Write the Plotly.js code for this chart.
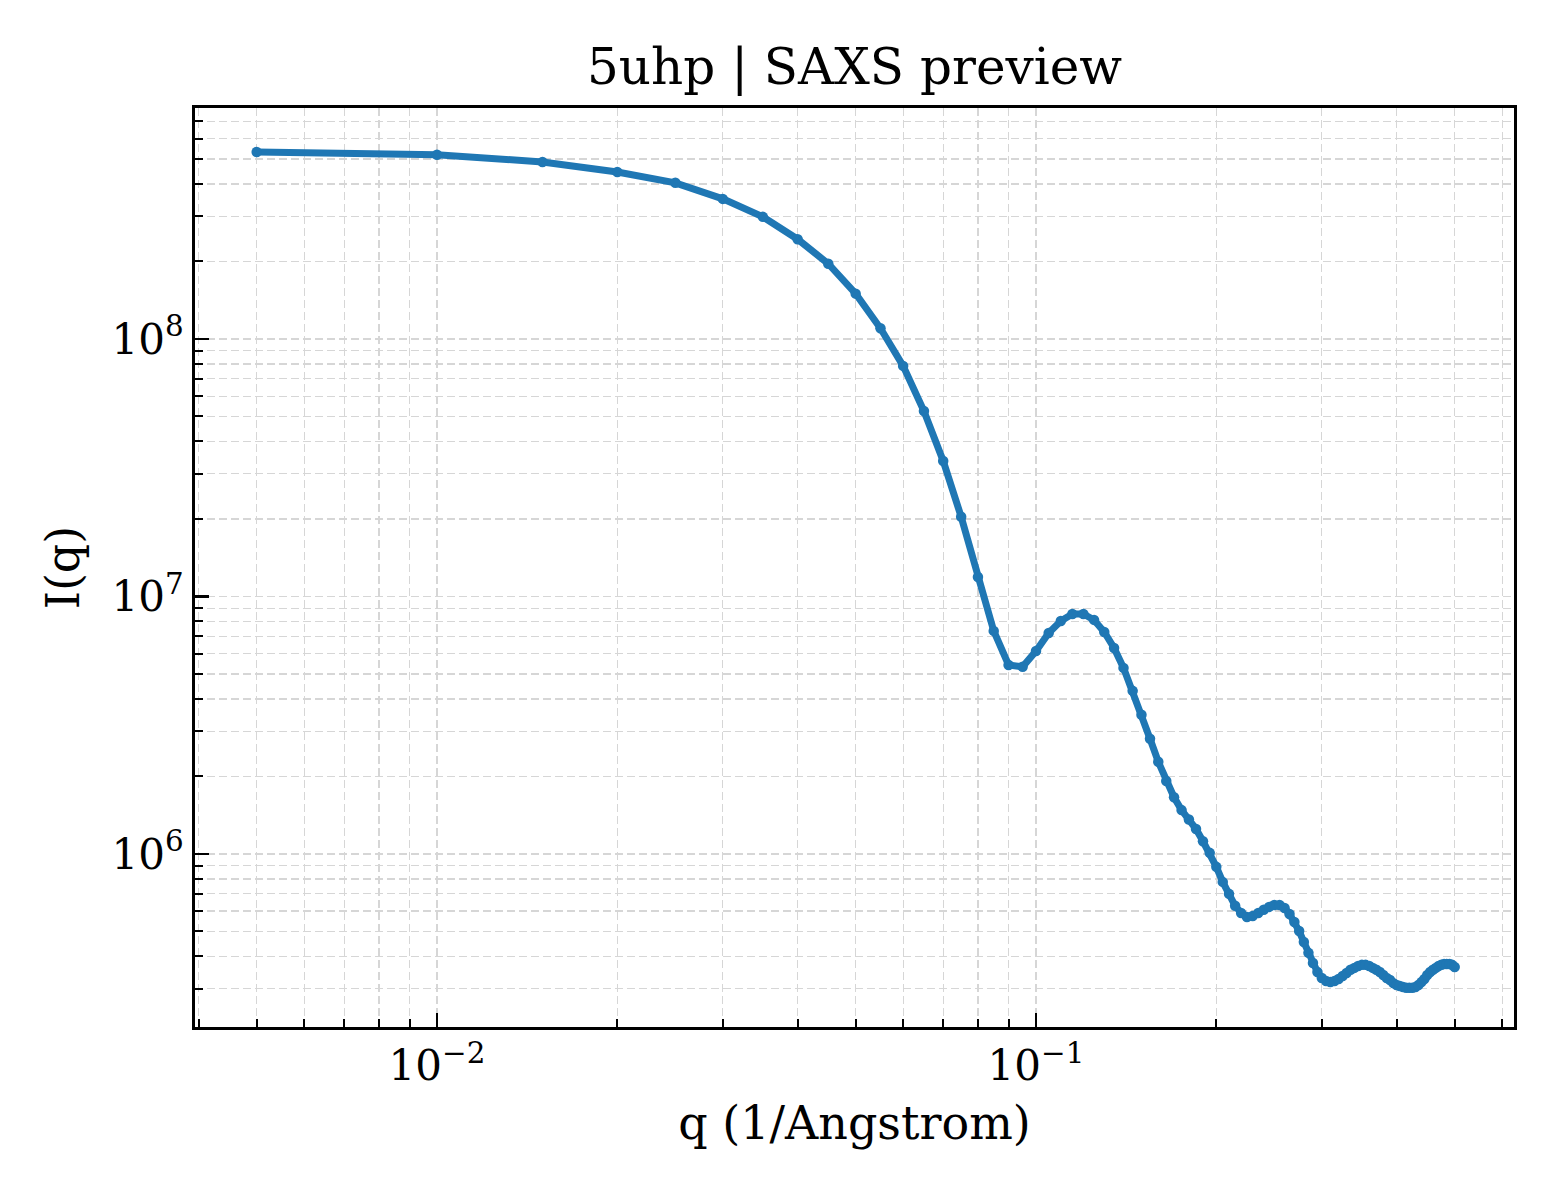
<!DOCTYPE html>
<html>
<head>
<meta charset="utf-8">
<script src="https://cdn.plot.ly/plotly-3.0.1.min.js"></script>
<style>
  html, body { margin: 0; padding: 0; background: #fff; }
  #saxs { width: 1560px; height: 1200px; }
</style>
</head>
<body>
<div id="saxs"></div>
<script>
// scattering vector q (1/Angstrom)
const q = [
  0.005, 0.010, 0.015, 0.020, 0.025, 0.030, 0.035, 0.040, 0.045, 0.050,
  0.055, 0.060, 0.065, 0.070, 0.075, 0.080, 0.085, 0.090, 0.095, 0.100,
  0.105, 0.110, 0.115, 0.120, 0.125, 0.130, 0.135, 0.140, 0.145, 0.150,
  0.155, 0.160, 0.165, 0.170, 0.175, 0.180, 0.185, 0.190, 0.195, 0.200,
  0.205, 0.210, 0.215, 0.220, 0.225, 0.230, 0.235, 0.240, 0.245, 0.250,
  0.255, 0.260, 0.265, 0.270, 0.275, 0.280, 0.285, 0.290, 0.295, 0.300,
  0.305, 0.310, 0.315, 0.320, 0.325, 0.330, 0.335, 0.340, 0.345, 0.350,
  0.355, 0.360, 0.365, 0.370, 0.375, 0.380, 0.385, 0.390, 0.395, 0.400,
  0.405, 0.410, 0.415, 0.420, 0.425, 0.430, 0.435, 0.440, 0.445, 0.450,
  0.455, 0.460, 0.465, 0.470, 0.475, 0.480, 0.485, 0.490, 0.495, 0.500
];

// intensity I(q)
const intensity = [
  5.32e8, 5.19e8, 4.87e8, 4.45e8, 4.04e8, 3.50e8, 2.98e8, 2.44e8, 1.96e8, 1.50e8,
  1.10e8, 7.86e7, 5.25e7, 3.36e7, 2.04e7, 1.19e7, 7.35e6, 5.42e6, 5.33e6, 6.14e6,
  7.21e6, 8.03e6, 8.55e6, 8.55e6, 8.11e6, 7.28e6, 6.31e6, 5.28e6, 4.30e6, 3.47e6,
  2.80e6, 2.28e6, 1.92e6, 1.66e6, 1.48e6, 1.36e6, 1.25e6, 1.12e6, 1.01e6, 8.91e5,
  7.79e5, 7.00e5, 6.29e5, 5.90e5, 5.69e5, 5.74e5, 5.90e5, 6.07e5, 6.23e5, 6.34e5,
  6.34e5, 6.17e5, 5.85e5, 5.44e5, 5.02e5, 4.55e5, 4.13e5, 3.77e5, 3.48e5, 3.30e5,
  3.21e5, 3.18e5, 3.21e5, 3.27e5, 3.36e5, 3.45e5, 3.55e5, 3.61e5, 3.67e5, 3.71e5,
  3.71e5, 3.67e5, 3.61e5, 3.55e5, 3.48e5, 3.39e5, 3.30e5, 3.24e5, 3.15e5, 3.10e5,
  3.07e5, 3.04e5, 3.02e5, 3.02e5, 3.02e5, 3.04e5, 3.10e5, 3.18e5, 3.27e5, 3.39e5,
  3.48e5, 3.55e5, 3.61e5, 3.67e5, 3.71e5, 3.74e5, 3.74e5, 3.74e5, 3.71e5, 3.64e5
];

const xTickVals = [0.01, 0.1];
const xTickText = ['10<sup>\u22122</sup>', '10<sup>\u22121</sup>'];
const yTickVals = [1e6, 1e7, 1e8];
const yTickText = ['10<sup>6</sup>', '10<sup>7</sup>', '10<sup>8</sup>'];

const serif = 'DejaVu Serif, serif';
const gridGrey = '#d6d6d6';

function axisBase() {
  return {
    type: 'log',
    showline: true,
    linecolor: '#000',
    linewidth: 3,
    mirror: true,
    ticks: 'inside',
    ticklen: 14,
    tickwidth: 2.5,
    tickcolor: '#000',
    showgrid: true,
    gridcolor: gridGrey,
    gridwidth: 1.5,
    griddash: '8px,4px',
    zeroline: false,
    tickfont: { family: serif, size: 42, color: '#000' },
    minor: {
      dtick: 'D1',
      ticks: 'inside',
      ticklen: 8,
      tickwidth: 2,
      tickcolor: '#000',
      showgrid: true,
      gridcolor: gridGrey,
      gridwidth: 1.2,
      griddash: '8px,4px'
    }
  };
}

const xaxis = Object.assign(axisBase(), {
  range: [-2.404, -0.202],
  tickmode: 'array',
  tickvals: xTickVals,
  ticktext: xTickText,
  title: { text: 'q (1/Angstrom)', font: { family: serif, size: 46, color: '#000' }, standoff: 18 }
});

const yaxis = Object.assign(axisBase(), {
  range: [5.328, 8.897],
  tickmode: 'array',
  tickvals: yTickVals,
  ticktext: yTickText,
  title: { text: 'I(q)', font: { family: serif, size: 46, color: '#000' }, standoff: 18 }
});

const trace = {
  x: q,
  y: intensity,
  type: 'scatter',
  mode: 'lines+markers',
  line: { color: '#1f77b4', width: 7 },
  marker: { color: '#1f77b4', size: 10.5 },
  hoverinfo: 'x+y'
};

const layout = {
  width: 1560,
  height: 1200,
  paper_bgcolor: '#fff',
  plot_bgcolor: '#fff',
  margin: { l: 195, r: 46, t: 108, b: 173 },
  showlegend: false,
  title: {
    text: '5uhp | SAXS preview',
    font: { family: serif, size: 50, color: '#000' },
    x: 0.5478, xanchor: 'center',
    y: 0.945, yanchor: 'middle'
  },
  xaxis: xaxis,
  yaxis: yaxis
};

Plotly.newPlot('saxs', [trace], layout, { staticPlot: true });
</script>
</body>
</html>
